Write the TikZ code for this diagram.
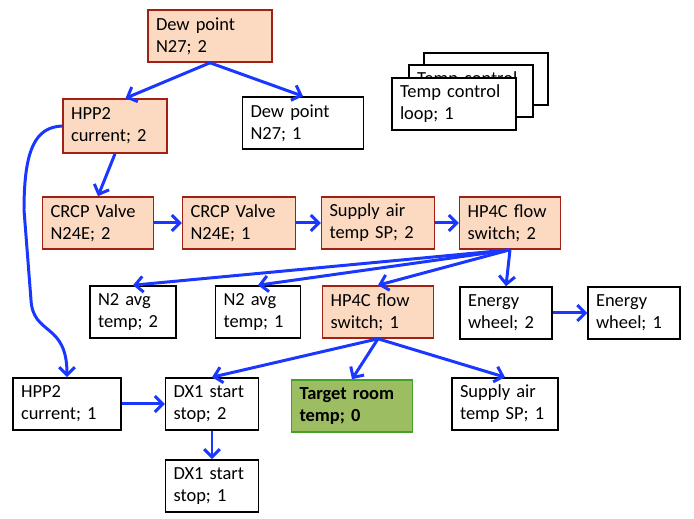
\documentclass[tikz,border=0pt]{standalone}
\usepackage{fontspec}
\setmainfont{Carlito}
\usetikzlibrary{arrows.meta}
\definecolor{levelfill}{RGB}{252,218,194}
\definecolor{leveldraw}{RGB}{160,32,20}
\definecolor{goalfill}{RGB}{157,189,98}
\definecolor{goaldraw}{RGB}{70,160,40}
\definecolor{linkblue}{RGB}{25,55,255}
\newcommand{\lvl}[2]{#1\\#2}

\begin{document}
\begin{tikzpicture}[x=0.02cm,y=-0.02cm,font=\fontsize{10.5}{12.5}\selectfont]

%
% Styles
%
\tikzstyle{box} = [rectangle,draw=black,fill=white,line width=0.9pt,text width=#1,align=left,inner xsep=4.5pt,minimum height=1.04cm]
\tikzstyle{hot} = [box=#1,draw=leveldraw,fill=levelfill]
\tikzstyle{goal} = [box=#1,draw=goaldraw,fill=goalfill,font=\fontsize{10.5}{12.5}\selectfont\bfseries]
\tikzstyle{link} = [draw=linkblue,line width=1.7pt,-{Straight Barb[length=4.5pt,width=9pt]}]

\useasboundingbox (0,0) rectangle (694,519);

\node[hot=2.16cm] (dewb) at (210,36)    {\lvl{Dew point}{N27; 2}};
\node[box=2.10cm] (dewa) at (303,123)   {\lvl{Dew point}{N27; 1}};
\node[hot=1.76cm,minimum height=1.08cm] (hppb) at (115,126) {\lvl{HPP2}{current; 2}};

\node[box=2.16cm,text height=14pt,text depth=8pt] (loopc) at (486,79) {\lvl{Temp control}{loop; 1}};
\node[box=2.16cm] (loopb) at (471,91)   {\lvl{Temp control}{loop; 1}};
\node[box=2.16cm] (loopa) at (454,104)  {\lvl{Temp control}{loop; 1}};

\node[hot=1.90cm] (crcpb) at (98,223)   {\lvl{CRCP Valve}{N24E; 2}};
\node[hot=1.94cm] (crcpa) at (239,223)  {\lvl{CRCP Valve}{N24E; 1}};
\node[hot=1.94cm] (supb) at (378,223)   {\lvl{Supply air}{temp SP; 2}};
\node[hot=1.70cm] (flowb) at (510,223)  {\lvl{HP4C flow}{switch; 2}};

\node[box=1.40cm] (avgb) at (133,312)   {\lvl{N2 avg}{temp; 2}};
\node[box=1.38cm] (avga) at (258,312)   {\lvl{N2 avg}{temp; 1}};
\node[hot=1.90cm] (flowa) at (378,312)  {\lvl{HP4C flow}{switch; 1}};
\node[box=1.52cm] (ewb) at (506,313)    {\lvl{Energy}{wheel; 2}};
\node[box=1.52cm] (ewa) at (634,313)    {\lvl{Energy}{wheel; 1}};

\node[box=1.84cm] (hppa) at (67,404)    {\lvl{HPP2}{current; 1}};
\node[box=1.54cm] (dxb) at (212,404)    {\lvl{DX1 start}{stop; 2}};
\node[goal=2.10cm] (room) at (352,406)  {\lvl{Target room}{temp; 0}};
\node[box=1.80cm] (supa) at (505,404)   {\lvl{Supply air}{temp SP; 1}};
\node[box=1.54cm] (dxa) at (212,486)    {\lvl{DX1 start}{stop; 1}};

\draw[link] (dewb.south) -- ([xshift=6pt]hppb.north);
\draw[link] (dewb.south) -- (dewa.north);
\draw[link] (hppb.south) -- (crcpb.north);
\draw[link] (hppb.west) .. controls (35,127) and (24,150) .. (24,210)
  -- (31,300) .. controls (33,336) and (67,322) .. (hppa.north);
\draw[link] (crcpb) -- (crcpa);
\draw[link] (crcpa) -- (supb);
\draw[link] (supb) -- (flowb);
\draw[link] (flowb.south) -- (avgb.north);
\draw[link] (flowb.south) -- (avga.north);
\draw[link] (flowb.south) -- (flowa.north);
\draw[link] (flowb.south) -- (ewb.north);
\draw[link] (ewb) -- (ewa);
\draw[link] (flowa.south) -- (dxb.north);
\draw[link] (flowa.south) -- (room.north);
\draw[link] (flowa.south) -- (supa.north);
\draw[link] (hppa) -- (dxb);
\draw[link] (dxb) -- (dxa);

\end{tikzpicture}
\end{document}
